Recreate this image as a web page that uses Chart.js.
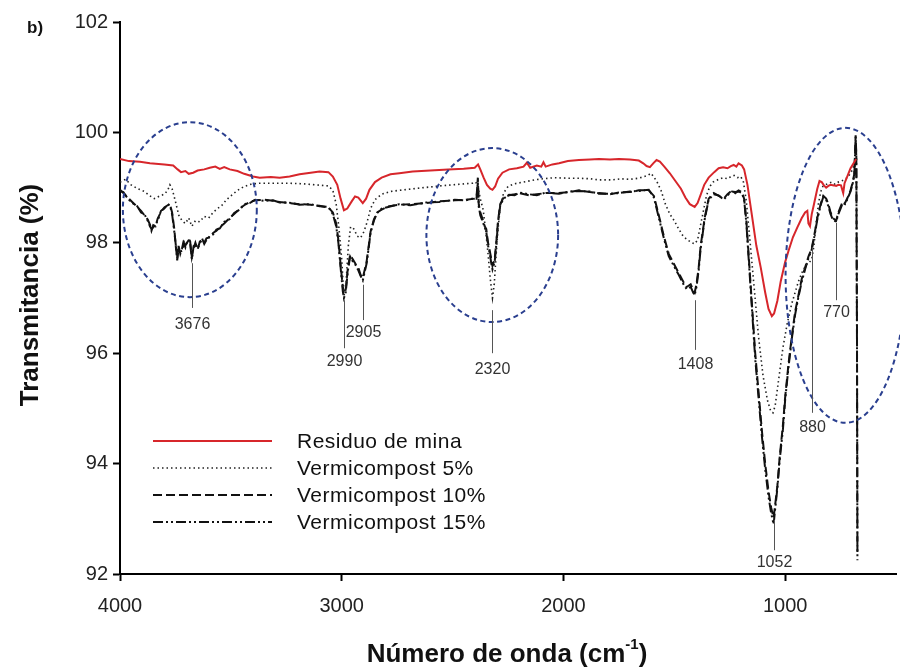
<!DOCTYPE html>
<html>
<head>
<meta charset="utf-8">
<script src="https://cdn.jsdelivr.net/npm/chart.js@4.4.1/dist/chart.umd.min.js"></script>
<style>
  html, body { margin: 0; padding: 0; background: #fff; }
  canvas { display: block; }
</style>
</head>
<body>
<canvas id="ftir" width="900" height="670"></canvas>
<script>
// FTIR spectra: transmittance (%) against wavenumber (cm-1)
const xTicks = [4000, 3000, 2000, 1000];
const yTicks = [92, 94, 96, 98, 100, 102];

const seriesNames = ['Residuo de mina', 'Vermicompost 5%', 'Vermicompost 10%', 'Vermicompost 15%'];

const wnResiduo = [4000, 3960, 3910, 3865, 3800, 3760, 3740, 3725, 3705, 3690, 3670, 3650, 3620, 3595, 3570, 3550, 3530, 3505, 3470, 3440, 3400, 3370, 3320, 3280, 3235, 3190, 3140, 3100, 3060, 3040, 3020, 3005, 2990, 2975, 2955, 2940, 2925, 2905, 2890, 2875, 2850, 2820, 2780, 2740, 2680, 2600, 2520, 2450, 2400, 2385, 2375, 2360, 2345, 2330, 2320, 2308, 2295, 2275, 2245, 2210, 2180, 2165, 2150, 2120, 2100, 2090, 2080, 2050, 2020, 1980, 1930, 1880, 1840, 1790, 1750, 1700, 1660, 1640, 1625, 1610, 1595, 1580, 1565, 1545, 1520, 1495, 1470, 1450, 1430, 1408, 1395, 1380, 1365, 1345, 1320, 1300, 1280, 1260, 1245, 1232, 1220, 1210, 1195, 1185, 1170, 1150, 1130, 1110, 1090, 1075, 1060, 1050, 1035, 1020, 1000, 985, 965, 945, 925, 910, 900, 895, 888, 880, 870, 855, 845, 835, 825, 815, 805, 795, 780, 770, 760, 748, 738, 732, 720, 705, 690, 680];
const tResiduo = [99.52, 99.48, 99.47, 99.44, 99.42, 99.40, 99.33, 99.28, 99.30, 99.25, 99.27, 99.31, 99.33, 99.36, 99.38, 99.34, 99.37, 99.33, 99.30, 99.25, 99.20, 99.18, 99.19, 99.18, 99.20, 99.24, 99.27, 99.29, 99.28, 99.20, 99.05, 98.80, 98.59, 98.62, 98.75, 98.84, 98.82, 98.72, 98.80, 98.96, 99.10, 99.18, 99.24, 99.26, 99.29, 99.31, 99.33, 99.34, 99.36, 99.42, 99.33, 99.18, 99.05, 98.98, 98.96, 99.02, 99.16, 99.27, 99.33, 99.35, 99.38, 99.45, 99.36, 99.40, 99.38, 99.46, 99.38, 99.42, 99.44, 99.48, 99.50, 99.51, 99.52, 99.51, 99.52, 99.51, 99.49, 99.44, 99.39, 99.37, 99.44, 99.50, 99.47, 99.38, 99.26, 99.12, 98.98, 98.82, 98.70, 98.65, 98.72, 98.88, 99.05, 99.18, 99.28, 99.35, 99.37, 99.35, 99.39, 99.41, 99.38, 99.44, 99.40, 99.33, 99.05, 98.50, 97.95, 97.55, 97.10, 96.80, 96.67, 96.72, 96.95, 97.30, 97.65, 97.85, 98.10, 98.28, 98.45, 98.55, 98.58, 98.35, 98.30, 98.52, 98.70, 98.98, 99.12, 99.10, 99.04, 99.00, 99.03, 99.05, 99.04, 99.03, 99.05, 99.04, 98.90, 99.08, 99.20, 99.35, 99.45, 99.52];

const wnVc5 = [4000, 3975, 3950, 3920, 3890, 3865, 3845, 3820, 3800, 3785, 3775, 3765, 3750, 3735, 3720, 3705, 3690, 3676, 3660, 3640, 3620, 3600, 3580, 3560, 3540, 3520, 3500, 3470, 3440, 3410, 3370, 3300, 3240, 3180, 3120, 3060, 3040, 3025, 3012, 3000, 2990, 2980, 2970, 2960, 2945, 2930, 2915, 2900, 2885, 2870, 2850, 2820, 2780, 2720, 2650, 2560, 2470, 2410, 2395, 2385, 2375, 2362, 2350, 2340, 2330, 2320, 2312, 2305, 2296, 2285, 2270, 2250, 2220, 2180, 2130, 2090, 2040, 1980, 1930, 1880, 1840, 1780, 1740, 1700, 1660, 1620, 1605, 1590, 1575, 1560, 1540, 1520, 1500, 1480, 1460, 1440, 1420, 1408, 1395, 1385, 1370, 1355, 1340, 1325, 1300, 1280, 1260, 1245, 1230, 1215, 1200, 1188, 1175, 1160, 1140, 1120, 1100, 1080, 1065, 1055, 1045, 1030, 1010, 990, 970, 955, 940, 920, 905, 890, 880, 870, 860, 850, 840, 830, 818, 805, 790, 775, 760, 745, 730, 715, 700, 690, 680];
const tVc5 = [99.10, 99.15, 99.05, 98.98, 98.93, 98.85, 98.80, 98.85, 98.88, 98.95, 99.05, 98.98, 98.75, 98.50, 98.40, 98.35, 98.45, 98.30, 98.40, 98.38, 98.48, 98.45, 98.55, 98.62, 98.68, 98.78, 98.85, 98.95, 99.02, 99.06, 99.08, 99.08, 99.08, 99.07, 99.05, 99.03, 98.95, 98.70, 98.25, 97.70, 97.02, 97.30, 97.95, 98.29, 98.25, 98.12, 98.09, 98.20, 98.38, 98.62, 98.78, 98.88, 98.93, 98.96, 98.99, 99.03, 99.06, 99.08, 99.10, 99.00, 98.80, 98.60, 98.20, 97.80, 97.35, 97.00, 97.25, 97.70, 98.20, 98.65, 98.90, 99.02, 99.07, 99.10, 99.14, 99.16, 99.18, 99.17, 99.17, 99.16, 99.14, 99.14, 99.16, 99.15, 99.17, 99.22, 99.26, 99.18, 99.08, 98.95, 98.70, 98.52, 98.40, 98.25, 98.12, 98.05, 98.00, 97.98, 98.05, 98.25, 98.55, 98.85, 99.02, 99.10, 99.15, 99.18, 99.16, 99.20, 99.22, 99.18, 99.20, 99.10, 98.75, 98.10, 97.20, 96.30, 95.60, 95.15, 94.95, 94.92, 95.05, 95.50, 96.10, 96.55, 96.90, 97.10, 97.30, 97.50, 97.60, 97.65, 97.70, 97.95, 98.35, 98.70, 98.92, 99.02, 99.05, 99.08, 99.10, 99.06, 99.10, 99.12, 99.15, 99.20, 99.30, 99.40, 99.50];

const wnVc = [4000, 3985, 3965, 3945, 3925, 3905, 3890, 3875, 3865, 3858, 3850, 3840, 3830, 3815, 3800, 3785, 3775, 3765, 3755, 3748, 3742, 3736, 3728, 3720, 3712, 3705, 3695, 3685, 3676, 3668, 3660, 3650, 3640, 3630, 3620, 3610, 3595, 3580, 3565, 3550, 3530, 3505, 3485, 3460, 3440, 3415, 3390, 3347, 3310, 3280, 3240, 3190, 3140, 3100, 3060, 3040, 3025, 3015, 3005, 2995, 2990, 2982, 2972, 2962, 2950, 2938, 2925, 2915, 2905, 2897, 2888, 2878, 2870, 2855, 2840, 2820, 2790, 2740, 2690, 2620, 2560, 2490, 2440, 2400, 2392, 2386, 2382, 2375, 2366, 2355, 2348, 2340, 2332, 2325, 2320, 2310, 2303, 2295, 2285, 2270, 2245, 2220, 2200, 2155, 2120, 2080, 2020, 1970, 1930, 1880, 1840, 1790, 1750, 1700, 1660, 1615, 1592, 1570, 1547, 1525, 1502, 1480, 1460, 1444, 1426, 1415, 1408, 1400, 1390, 1381, 1370, 1363, 1345, 1322, 1300, 1277, 1260, 1240, 1225, 1210, 1195, 1185, 1175, 1165, 1150, 1135, 1120, 1105, 1090, 1075, 1063, 1052, 1045, 1035, 1025, 1010, 1000, 985, 970, 955, 940, 925, 910, 895, 880, 868, 855, 840, 828, 815, 805, 795, 785, 770, 760, 750, 740, 730, 718, 705, 695, 688, 682, 679, 676, 674];
const tVc10 = [98.96, 98.90, 98.82, 98.74, 98.66, 98.58, 98.50, 98.42, 98.33, 98.22, 98.32, 98.30, 98.44, 98.56, 98.64, 98.68, 98.70, 98.55, 98.25, 97.92, 97.72, 97.95, 97.80, 97.90, 98.05, 97.95, 98.02, 98.08, 97.74, 97.90, 98.00, 97.88, 98.02, 98.05, 98.00, 98.08, 98.10, 98.18, 98.22, 98.28, 98.35, 98.45, 98.52, 98.62, 98.68, 98.74, 98.77, 98.78, 98.76, 98.74, 98.72, 98.70, 98.69, 98.67, 98.64, 98.55, 98.35, 98.05, 97.60, 97.20, 97.08, 97.15, 97.55, 97.78, 97.70, 97.62, 97.55, 97.42, 97.36, 97.50, 97.65, 97.95, 98.20, 98.42, 98.55, 98.60, 98.66, 98.69, 98.70, 98.72, 98.75, 98.77, 98.78, 98.80, 98.82, 99.18, 98.70, 98.55, 98.45, 98.30, 98.25, 98.00, 97.85, 97.70, 97.58, 97.70, 98.00, 98.40, 98.70, 98.82, 98.86, 98.88, 98.90, 98.86, 98.88, 98.90, 98.90, 98.92, 98.95, 98.92, 98.90, 98.88, 98.91, 98.92, 98.95, 98.95, 98.85, 98.50, 98.12, 97.80, 97.62, 97.45, 97.30, 97.20, 97.25, 97.15, 97.10, 97.25, 97.55, 97.95, 98.25, 98.45, 98.80, 98.90, 98.85, 98.80, 98.88, 98.95, 98.90, 98.95, 98.92, 98.80, 98.40, 97.80, 96.90, 96.00, 95.30, 94.60, 94.00, 93.50, 93.20, 93.02, 93.25, 93.60, 94.10, 94.70, 95.20, 95.80, 96.30, 96.75, 97.05, 97.35, 97.55, 97.75, 97.90, 98.15, 98.45, 98.70, 98.85, 98.80, 98.70, 98.55, 98.45, 98.40, 98.55, 98.65, 98.75, 98.72, 98.82, 98.95, 99.10, 99.25, 99.95, 99.60, 96.50, 92.40];
const tVc15 = [98.94, 98.92, 98.80, 98.72, 98.68, 98.55, 98.52, 98.40, 98.30, 98.25, 98.28, 98.33, 98.40, 98.58, 98.62, 98.70, 98.68, 98.52, 98.20, 97.95, 97.68, 97.90, 97.84, 97.86, 98.00, 97.92, 98.05, 98.04, 97.70, 97.94, 97.96, 97.90, 97.98, 98.08, 97.98, 98.05, 98.12, 98.15, 98.24, 98.26, 98.38, 98.43, 98.54, 98.60, 98.70, 98.72, 98.78, 98.76, 98.77, 98.73, 98.73, 98.69, 98.70, 98.66, 98.65, 98.52, 98.30, 98.00, 97.55, 97.12, 97.00, 97.10, 97.50, 97.75, 97.66, 97.60, 97.50, 97.40, 97.32, 97.46, 97.62, 97.92, 98.18, 98.40, 98.54, 98.62, 98.65, 98.70, 98.68, 98.73, 98.74, 98.78, 98.77, 98.81, 98.80, 99.10, 98.66, 98.50, 98.40, 98.28, 98.20, 97.95, 97.80, 97.62, 97.52, 97.66, 97.96, 98.36, 98.68, 98.80, 98.87, 98.86, 98.91, 98.88, 98.86, 98.91, 98.89, 98.93, 98.94, 98.93, 98.89, 98.89, 98.90, 98.93, 98.94, 98.96, 98.82, 98.46, 98.08, 97.76, 97.58, 97.42, 97.26, 97.16, 97.20, 97.10, 97.05, 97.20, 97.50, 97.90, 98.22, 98.42, 98.78, 98.88, 98.86, 98.78, 98.86, 98.93, 98.92, 98.93, 98.90, 98.78, 98.36, 97.74, 96.82, 95.90, 95.20, 94.50, 93.90, 93.40, 93.10, 92.90, 93.18, 93.55, 94.05, 94.62, 95.15, 95.74, 96.26, 96.70, 97.02, 97.30, 97.52, 97.72, 97.88, 98.12, 98.42, 98.68, 98.83, 98.78, 98.66, 98.52, 98.42, 98.38, 98.52, 98.62, 98.72, 98.70, 98.80, 98.93, 99.08, 99.22, 99.92, 99.55, 96.20, 92.25];

// assigned bands: wavenumber label, leader line span and label height (in %T)
const bandLabels = [3676, 2990, 2905, 2320, 1408, 1052, 880, 770];
const bandLineTop = [97.63, 96.96, 97.24, 96.78, 96.96, 92.98, 97.92, 98.36];
const bandLineBottom = [96.82, 96.09, 96.60, 96.00, 96.06, 92.43, 94.92, 96.96];
const bandTextAt = [96.51, 95.84, 96.37, 95.70, 95.79, 92.20, 94.66, 96.73];

// highlighted regions: centre (cm-1, %T) and half-widths
const regionCentreWn = [3685, 2321, 728];
const regionCentreT = [98.60, 98.14, 97.41];
const regionHalfWn = [302, 297, 270];
const regionHalfT = [1.585, 1.576, 2.672];

const FONT = '"Liberation Sans", Arial, Helvetica, sans-serif';
const lineStyles = [
  { color: '#d7262b', width: 2, dash: [] },
  { color: '#222222', width: 1.6, dash: [1.5, 3] },
  { color: '#111111', width: 2, dash: [9, 4] },
  { color: '#111111', width: 2, dash: [10, 3, 2, 3, 2, 3] }
];

const pairs = (wn, t) => wn.map((w, i) => ({ x: w, y: t[i] }));
const seriesData = [
  pairs(wnResiduo, tResiduo),
  pairs(wnVc5, tVc5),
  pairs(wnVc, tVc10),
  pairs(wnVc, tVc15)
];

const datasets = seriesNames.map((name, i) => ({
  label: name,
  data: seriesData[i],
  borderColor: lineStyles[i].color,
  borderWidth: lineStyles[i].width,
  borderDash: lineStyles[i].dash,
  pointRadius: 0,
  tension: 0,
  fill: false
}));

const decorations = {
  id: 'decorations',
  afterDatasetsDraw(chart) {
    const { ctx, scales: { x, y } } = chart;
    ctx.save();

    // dashed ellipses around the regions of interest
    ctx.strokeStyle = '#2a3f8f';
    ctx.lineWidth = 2;
    ctx.setLineDash([5, 3.5]);
    regionCentreWn.forEach((wn, i) => {
      const cx = x.getPixelForValue(wn);
      const cy = y.getPixelForValue(regionCentreT[i]);
      const rx = Math.abs(x.getPixelForValue(wn + regionHalfWn[i]) - cx);
      const ry = Math.abs(y.getPixelForValue(regionCentreT[i] + regionHalfT[i]) - cy);
      ctx.beginPath();
      ctx.ellipse(cx, cy, rx, ry, 0, 0, Math.PI * 2);
      ctx.stroke();
    });

    // band leader lines and labels
    ctx.setLineDash([]);
    ctx.strokeStyle = '#555';
    ctx.lineWidth = 1;
    ctx.fillStyle = '#333';
    ctx.font = '16px ' + FONT;
    ctx.textAlign = 'center';
    ctx.textBaseline = 'middle';
    bandLabels.forEach((wn, i) => {
      const px = Math.round(x.getPixelForValue(wn)) + 0.5;
      ctx.beginPath();
      ctx.moveTo(px, y.getPixelForValue(bandLineTop[i]));
      ctx.lineTo(px, y.getPixelForValue(bandLineBottom[i]));
      ctx.stroke();
      ctx.fillText(String(wn), px, y.getPixelForValue(bandTextAt[i]));
    });

    // legend
    const rows = [441, 468, 495, 522];
    ctx.font = '21px ' + FONT;
    ctx.letterSpacing = '0.5px';
    ctx.textAlign = 'left';
    ctx.fillStyle = '#111';
    datasets.forEach((ds, i) => {
      ctx.strokeStyle = ds.borderColor;
      ctx.lineWidth = ds.borderWidth;
      ctx.setLineDash(ds.borderDash);
      ctx.beginPath();
      ctx.moveTo(153, rows[i]);
      ctx.lineTo(272, rows[i]);
      ctx.stroke();
      ctx.fillText(ds.label, 297, rows[i] + 1);
    });
    ctx.setLineDash([]);
    ctx.letterSpacing = '0px';

    // panel tag
    ctx.font = 'bold 17px ' + FONT;
    ctx.fillStyle = '#111';
    ctx.fillText('b)', 27, 28);

    // y axis title
    ctx.save();
    ctx.translate(31, 295);
    ctx.rotate(-Math.PI / 2);
    ctx.textAlign = 'center';
    ctx.font = 'bold 26px ' + FONT;
    ctx.fillText('Transmitancia (%)', 0, 0);
    ctx.restore();

    // x axis title with superscript
    const main = 'Número de onda (cm';
    const sup = '-1';
    const close = ')';
    ctx.font = 'bold 26px ' + FONT;
    const wMain = ctx.measureText(main).width;
    const wClose = ctx.measureText(close).width;
    ctx.font = 'bold 15px ' + FONT;
    const wSup = ctx.measureText(sup).width;
    const total = wMain + wSup + wClose;
    let tx = 507 - total / 2;
    const ty = 655;
    ctx.textAlign = 'left';
    ctx.font = 'bold 26px ' + FONT;
    ctx.fillText(main, tx, ty);
    tx += wMain;
    ctx.font = 'bold 15px ' + FONT;
    ctx.fillText(sup, tx, ty - 10);
    tx += wSup;
    ctx.font = 'bold 26px ' + FONT;
    ctx.fillText(close, tx, ty);

    ctx.restore();
  }
};

new Chart(document.getElementById('ftir'), {
  type: 'line',
  data: { datasets },
  options: {
    responsive: false,
    animation: false,
    devicePixelRatio: 1,
    layout: { padding: { left: 0, right: 4, top: 22, bottom: 0 } },
    plugins: { legend: { display: false }, tooltip: { enabled: false }, title: { display: false } },
    scales: {
      x: {
        type: 'linear',
        reverse: true,
        min: 500,
        max: 4000,
        afterBuildTicks: s => { s.ticks = xTicks.map(v => ({ value: v })); },
        afterFit: s => { s.height = 96; },
        border: { color: '#000', width: 2 },
        grid: { display: true, drawOnChartArea: false, drawTicks: true, tickLength: 7, tickWidth: 2, tickColor: '#000' },
        ticks: { color: '#222', font: { size: 20, family: FONT }, padding: 13, maxRotation: 0, autoSkip: false, callback: v => String(v) }
      },
      y: {
        type: 'linear',
        min: 92,
        max: 102,
        afterBuildTicks: s => { s.ticks = yTicks.map(v => ({ value: v })); },
        afterFit: s => { s.width = 120; },
        border: { color: '#000', width: 2 },
        grid: { display: true, drawOnChartArea: false, drawTicks: true, tickLength: 7, tickWidth: 2, tickColor: '#000' },
        ticks: { color: '#222', font: { size: 20, family: FONT }, padding: 5, autoSkip: false, callback: v => String(v) }
      }
    }
  },
  plugins: [decorations]
});
</script>
</body>
</html>
